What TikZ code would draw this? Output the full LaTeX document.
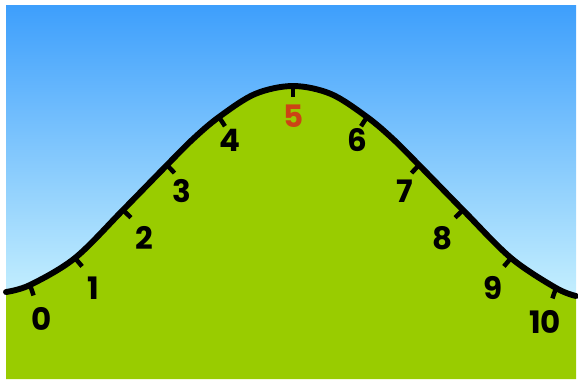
\documentclass[tikz,border=0pt]{standalone}
\usepackage{fontspec}
\setmainfont{Poppins}
\usetikzlibrary{calc}
\definecolor{skytop}{HTML}{3E9FFC}
\definecolor{skylow}{HTML}{C6F0FE}
\definecolor{grass}{HTML}{99CC00}
\definecolor{peakred}{HTML}{CC4415}
\tikzset{numlabel/.style={font=\fontsize{22}{26}\selectfont\bfseries, text=black, inner sep=0pt}}

\begin{document}
\begin{tikzpicture}[x=0.025cm,y=-0.025cm]
\useasboundingbox (0,0) rectangle (578,380);
% sky with a gradient
\shade[top color=skytop, bottom color=skylow] (6,6) rectangle (576,300);
% grass below the bell curve
\fill[grass] plot[smooth, tension=0.55] coordinates {(6,292) (30,285) (75,258) (123,210) (167,165) (193,139) (219,117) (255,94) (293,86) (331,94) (367,117) (393,139) (419,165) (463,210) (511,258) (556,288) (576,296)} -- (576,379) -- (6,379) -- cycle;
% the bell curve
\draw[black, line width=4.2pt, line cap=round] plot[smooth, tension=0.55] coordinates {(6,292) (30,285) (75,258) (123,210) (167,165) (193,139) (219,117) (255,94) (293,86) (331,94) (367,117) (393,139) (419,165) (463,210) (511,258) (556,288) (576,296)};
% the ticks, pointing into the grass
\foreach \x/\y/\a in {30/285/71, 75/258/50, 123/210/44, 167/165/47, 219/117/57, 293/86/90, 367/117/123, 419/165/133, 463/210/136, 511/258/130, 556/288/109}
  \draw[black, line width=3.2pt] (\x,\y) -- ++(\a:11);
% numbers
\foreach \i/\x/\y in {0/42/319, 1/93/288, 2/144/238, 3/182/191, 4/230/140, 6/357/140, 7/405/191, 8/443/238, 9/493/288, 10/545/322}
  \node[numlabel] (n\i) at (\x,\y) {\i};
\node[numlabel, text=peakred] (n5) at (294,116) {5};
\end{tikzpicture}
\end{document}
